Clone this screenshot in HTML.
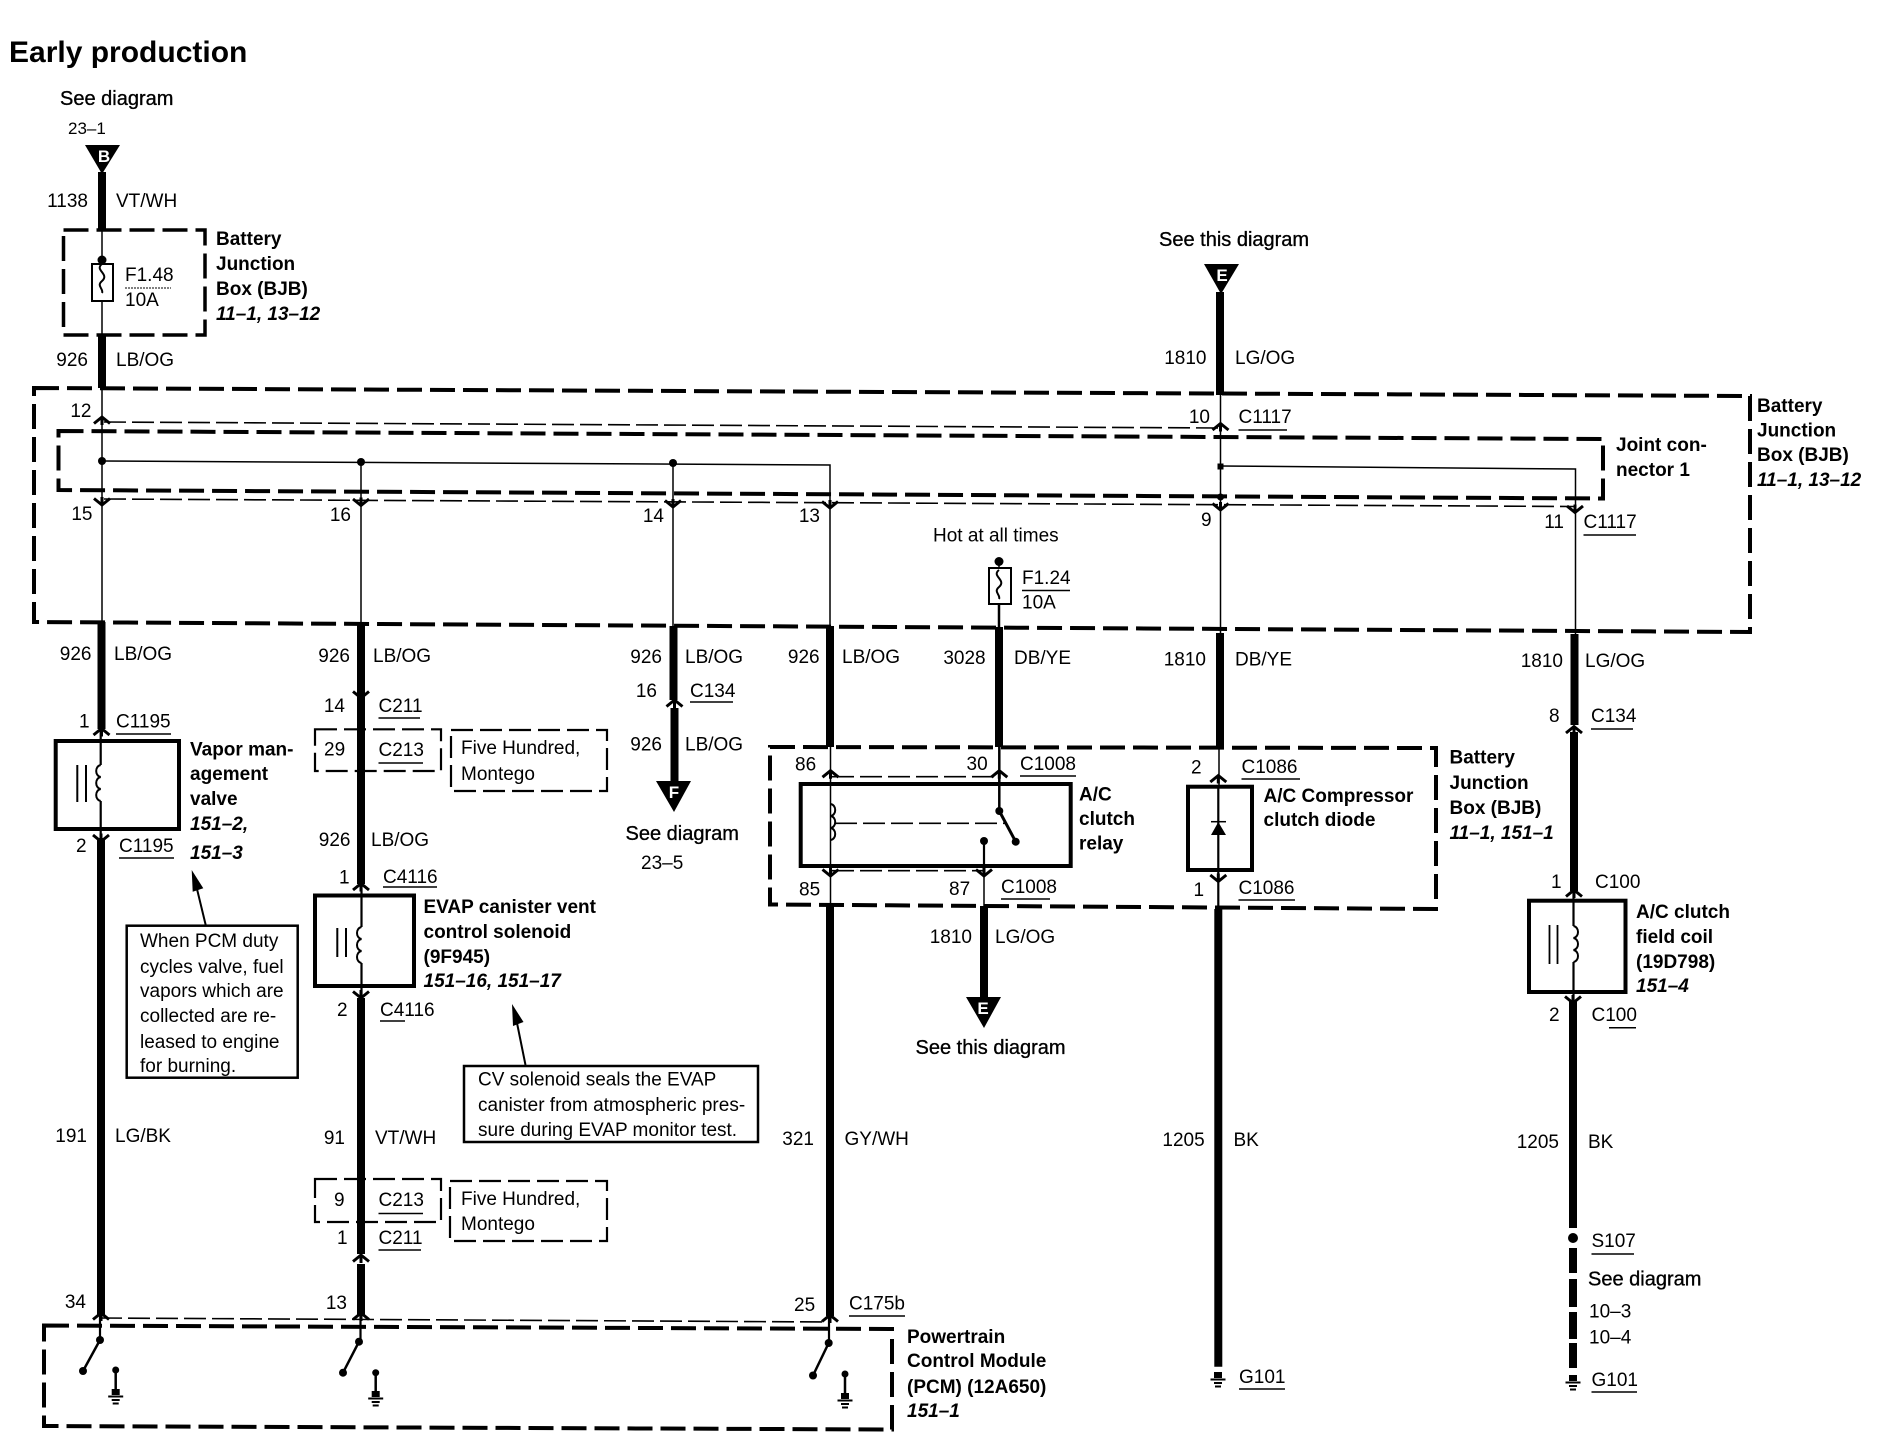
<!DOCTYPE html>
<html><head><meta charset="utf-8"><title>Early production</title>
<style>
html,body{margin:0;padding:0;background:#fff}
svg{display:block}
text{font-family:"Liberation Sans",sans-serif;font-size:19px;fill:#000}
.b{font-weight:bold}
.i{font-weight:bold;font-style:italic}
.e{text-anchor:end}
.m{stroke:#000;stroke-width:.35px}
.t{stroke:#000;stroke-width:8;fill:none}
.n{stroke:#000;stroke-width:1.5;fill:none}
.h{stroke:#000;stroke-width:2.2;fill:none}
.bx{stroke:#000;stroke-width:4;fill:none}
.d{stroke:#000;stroke-width:4;fill:none;stroke-dasharray:25 8}
.dm{stroke:#000;stroke-width:2.2;fill:none;stroke-dasharray:22 7}
.dt{stroke:#000;stroke-width:1.6;fill:none;stroke-dasharray:22 6}
.u{stroke:#000;stroke-width:1.5;fill:none}
</style></head><body>
<svg xmlns="http://www.w3.org/2000/svg" width="1894" height="1456" viewBox="0 0 1894 1456">
<defs>
<path id="cu" d="M-8 3.500L0 -3L8 3.500M0 -3V5" fill="none" stroke="#000" stroke-width="3"/>
<path id="cd" d="M-8 -3.500L0 3L8 -3.500M0 3V-5" fill="none" stroke="#000" stroke-width="3"/>
<g id="gnd"><rect x="-4" y="-7" width="8" height="6"/><path d="M-7.500 0.500H7.500M-4 4H4M-3 7.500H3" fill="none" stroke="#000" stroke-width="2"/></g>
<path id="cl" d="M0 0c-6 1 -6 11 0 12c-6 1 -6 11 0 12c-6 1 -6 11 0 12" fill="none" stroke="#000" stroke-width="2"/>
<path id="cr" d="M0 0c6 1 6 11 0 12c6 1 6 11 0 12c6 1 6 11 0 12" fill="none" stroke="#000" stroke-width="2"/>
<path id="fz" d="M0 0c-8 6 8 10 0 17c-6 5 2 8 0 12" fill="none" stroke="#000" stroke-width="2"/>
</defs>

<text x="9" y="62" class="b" style="font-size:30px">Early production</text>

<!-- Large dashed boxes -->
<path class="d" d="M34 388L1750 396V632L34 622Z"/>
<path class="d" d="M58.500 431L1603 439V498.500L58.500 490Z"/>
<path class="d" d="M63.500 230H205V335H63.500Z" style="stroke-width:3.500"/>
<path class="d" d="M770 747L1436 748V909L770 904.500Z"/>
<path class="d" d="M44 1325.500L892 1329V1429.500L44 1426Z"/>
<path class="dt" d="M104 422L1218 428"/>
<path class="dt" d="M104 499L1574 506.500"/>
<path class="dt" d="M832 776.700H999"/>
<path class="dt" d="M832 870.700H984"/>
<path class="dt" d="M100 1318L830 1322"/>

<!-- Column A -->
<polygon points="85,145 120,145 102,174"/>
<text x="104" y="162" class="b" text-anchor="middle" style="fill:#fff;font-size:17px">B</text>
<path class="t" d="M102 172V230M102 335V388M101.500 622V729M101 838V1316"/>
<path class="n" d="M102 230V260M102 301V335M102 388V622"/>
<circle cx="102" cy="260" r="4.500"/>
<rect x="92" y="264" width="21" height="37" fill="#fff" stroke="#000" stroke-width="2"/>
<use href="#fz" x="102" y="264"/>
<path d="M125 288H171" stroke="#000" stroke-width="1" stroke-dasharray="2 1"/>
<circle cx="102" cy="461" r="4"/>
<use href="#cu" x="102" y="420"/><use href="#cd" x="102" y="502"/>
<use href="#cu" x="101.500" y="731.500"/><use href="#cd" x="101" y="838.500"/><use href="#cu" x="101" y="1316"/>
<path class="h" d="M100.700 729V765M100.700 801V838M100 1316V1340"/>
<rect class="bx" x="55.700" y="741" width="123.300" height="88"/>
<use href="#cl" x="100.700" y="765"/>
<path d="M77.300 765V802M86 765V802" stroke="#000" stroke-width="2"/>
<path d="M100 1340L83 1371M115.700 1370V1392" stroke="#000" stroke-width="2.500"/>
<circle cx="100" cy="1340" r="4"/><circle cx="83" cy="1371" r="4"/><circle cx="115.700" cy="1370" r="3.500"/>
<use href="#gnd" x="115.700" y="1396"/>

<!-- Column B -->
<path class="n" d="M102 461L830 465V628"/>
<circle cx="361" cy="462" r="4"/><circle cx="673" cy="463" r="4"/>
<path class="n" d="M361 462V623"/>
<path class="h" d="M361.500 884V927M361.500 963V998"/>
<path class="t" d="M361 623V884M361 998V1254M361 1264V1316"/>
<use href="#cd" x="361" y="502.500"/><use href="#cd" x="361" y="695"/><use href="#cu" x="361" y="886.500"/><use href="#cd" x="361" y="995"/><use href="#cu" x="361" y="1258"/><use href="#cu" x="361" y="1316"/>
<rect class="bx" x="315" y="895.500" width="99" height="90.500"/>
<use href="#cl" x="361.500" y="927"/>
<path d="M337.300 928V957M346 928V957" stroke="#000" stroke-width="2"/>
<path class="dm" d="M315 729.300H441V771H315Z"/>
<path class="dm" d="M451 730H607V791H451Z"/>
<path class="dm" d="M315 1179H441V1222H315Z"/>
<path class="dm" d="M450 1181H607V1241H450Z"/>
<path class="h" d="M360.500 1316V1342"/>
<path d="M359 1341.700L343 1372.700M375.700 1372.700V1394" stroke="#000" stroke-width="2.500"/>
<circle cx="359" cy="1341.700" r="4"/><circle cx="343" cy="1372.700" r="4"/><circle cx="375.700" cy="1372.700" r="3.500"/>
<use href="#gnd" x="375.700" y="1398"/>

<!-- Column C -->
<path class="n" d="M673 463V626"/>
<use href="#cd" x="673" y="504"/>
<path class="t" d="M673.500 626V700M674.500 708V784"/>
<use href="#cu" x="674.500" y="703"/>
<polygon points="656,781 691,781 674,812"/>
<text x="674" y="798" class="b" text-anchor="middle" style="fill:#fff;font-size:17px">F</text>

<!-- Column D -->
<use href="#cd" x="830" y="505"/>
<path class="t" d="M830 626V747M830 906V1316"/>
<path class="n" d="M830.500 747V905"/>
<path class="h" d="M829 1316V1343"/>
<use href="#cu" x="830.500" y="773.700"/><use href="#cd" x="830.500" y="873"/><use href="#cu" x="830" y="1318"/>
<rect class="bx" x="800.700" y="784" width="270" height="82"/>
<use href="#cr" x="830.700" y="804"/>
<path class="dt" d="M835 823.300H1005"/>
<path d="M999.300 811L1015.700 841.700" stroke="#000" stroke-width="3"/>
<circle cx="999.300" cy="811" r="4"/><circle cx="1015.700" cy="841.700" r="4"/><circle cx="984" cy="841" r="4"/>
<path class="h" d="M984 841V873"/>
<path d="M828.700 1343L813 1375.500M845 1374V1396" stroke="#000" stroke-width="2.500"/>
<circle cx="828.700" cy="1343" r="4"/><circle cx="813" cy="1375.500" r="4"/><circle cx="845" cy="1374" r="3.500"/>
<use href="#gnd" x="845" y="1400"/>

<!-- Column E: fuse / switch -->
<circle cx="999" cy="561.500" r="4.500"/>
<path class="n" d="M999 561.500V568"/>
<rect x="989" y="568" width="22" height="36" fill="#fff" stroke="#000" stroke-width="2"/>
<use href="#fz" x="999" y="570"/>
<path d="M999 604V627" stroke="#000" stroke-width="2.500"/>
<path class="t" d="M999 627V747"/>
<path d="M999.300 747V811" stroke="#000" stroke-width="2.500"/>
<use href="#cu" x="999.300" y="773.700"/>
<path d="M1022 590.500H1070" stroke="#000" stroke-width="1.500"/>

<!-- Column H -->
<use href="#cd" x="984" y="873"/>
<path class="n" d="M984 873V906"/>
<path class="t" d="M984 906V1000"/>
<polygon points="966,997 1001,997 984,1028"/>
<text x="983" y="1014" class="b" text-anchor="middle" style="fill:#fff;font-size:17px">E</text>

<!-- Column F -->
<polygon points="1204,264 1239,264 1221,294"/>
<text x="1222" y="281" class="b" text-anchor="middle" style="fill:#fff;font-size:17px">E</text>
<path class="t" d="M1220 292V395M1220 633V749M1218.300 909V1366.700"/>
<path class="n" d="M1220.500 395V633M1219 749V786"/>
<rect x="1217.500" y="463.500" width="6" height="6"/><circle cx="1220.500" cy="497" r="3.500"/>
<use href="#cu" x="1220.500" y="426.500"/><use href="#cd" x="1220.500" y="507"/><use href="#cu" x="1218.300" y="778.500"/><use href="#cd" x="1218.300" y="878.500"/>
<rect class="bx" x="1188" y="786.700" width="64" height="83.300"/>
<path d="M1218.300 786V909" stroke="#000" stroke-width="2.200"/>
<polygon points="1218.300,822 1211,835 1226,835"/>
<path d="M1211 821.700H1226" stroke="#000" stroke-width="1.500"/>
<use href="#gnd" x="1218" y="1379"/>

<!-- Column G -->
<path class="n" d="M1220.500 466L1575.500 469V634"/>
<use href="#cd" x="1575" y="509.500"/>
<path class="t" d="M1574.500 634V725M1574 732V891M1573 1000V1228"/>
<use href="#cu" x="1574" y="729.500"/><use href="#cu" x="1574" y="893"/><use href="#cd" x="1573" y="1000"/>
<rect class="bx" x="1529" y="900.700" width="96.500" height="91.300"/>
<path class="h" d="M1573.500 893V926M1573.500 962V1000"/>
<use href="#cr" x="1573.500" y="926"/>
<path d="M1549.500 925V964M1557.500 925V964" stroke="#000" stroke-width="1.800"/>
<circle cx="1573" cy="1238" r="5"/>
<path class="t" d="M1573 1248V1273M1573 1279V1307M1573 1312V1339M1573 1343V1368"/>
<use href="#gnd" x="1573" y="1382"/>

<!-- Callout arrows -->
<path d="M205.700 925L197 889" stroke="#000" stroke-width="2"/>
<polygon points="191.700,870 192.700,891.700 203.300,888.300"/>
<rect x="126.700" y="925.700" width="171" height="152" fill="none" stroke="#000" stroke-width="2.500"/>
<path d="M525.500 1065L517 1023" stroke="#000" stroke-width="2"/>
<polygon points="512,1004 513,1026 523.500,1022"/>
<rect x="464" y="1066" width="294" height="76" fill="none" stroke="#000" stroke-width="2.500"/>

<!-- Underlines -->
<path class="u" d="M116 734H171M119 858H174M378.500 718H420M378.500 763H423M383 887H437M380 1021H405M378.500 1213.500H423M378.500 1250H421M690 702H733M1238.500 430H1287M1583.500 535H1636M1020 776H1076M1001 899H1050M1241.500 779H1300M1238.500 900H1295M1591 729H1633M1609 1027.700H1636M849 1316H905M1239 1389H1285M1591.500 1254H1634M1591.500 1392H1637"/>

<!-- Column A text -->
<text x="60" y="105" class="m" style="font-size:20px">See diagram</text>
<text x="68" y="134" style="font-size:17px">23–1</text>
<text x="88" y="207" class="e">1138</text><text x="116" y="207">VT/WH</text>
<text x="216" y="245" class="b">Battery</text><text x="216" y="270" class="b">Junction</text><text x="216" y="295" class="b">Box (BJB)</text><text x="216" y="320" class="i">11–1, 13–12</text>
<text x="125" y="281">F1.48</text><text x="125" y="306">10A</text>
<text x="88" y="366" class="e">926</text><text x="116" y="366">LB/OG</text>
<text x="91.500" y="417" class="e">12</text><text x="92.500" y="520" class="e">15</text>
<text x="91.500" y="660" class="e">926</text><text x="114" y="660">LB/OG</text>
<text x="79" y="727.500">1</text><text x="116" y="727.500">C1195</text>
<text x="76" y="852">2</text><text x="119" y="852">C1195</text>
<text x="190" y="755.500" class="b">Vapor man-</text><text x="190" y="780" class="b">agement</text><text x="190" y="805" class="b">valve</text><text x="190" y="830" class="i">151–2,</text><text x="190" y="859" class="i">151–3</text>
<text x="140" y="947">When PCM duty</text><text x="140" y="973">cycles valve, fuel</text><text x="140" y="997">vapors which are</text><text x="140" y="1022">collected are re-</text><text x="140" y="1048">leased to engine</text><text x="140" y="1072">for burning.</text>
<text x="87" y="1142" class="e">191</text><text x="115" y="1142">LG/BK</text>
<text x="86" y="1308" class="e">34</text>

<!-- Column B text -->
<text x="351" y="521" class="e">16</text>
<text x="350" y="662" class="e">926</text><text x="373" y="662">LB/OG</text>
<text x="345" y="712" class="e">14</text><text x="378.500" y="712">C211</text>
<text x="324" y="755.500">29</text><text x="378.500" y="756">C213</text>
<text x="461" y="754">Five Hundred,</text><text x="461" y="780">Montego</text>
<text x="350.500" y="846" class="e">926</text><text x="371" y="846">LB/OG</text>
<text x="339" y="883.500">1</text><text x="383" y="883">C4116</text>
<text x="423.500" y="913" class="b">EVAP canister vent</text><text x="423.500" y="938" class="b">control solenoid</text><text x="423.500" y="963" class="b">(9F945)</text><text x="423.500" y="987" class="i">151–16, 151–17</text>
<text x="337" y="1016">2</text><text x="380" y="1016">C4116</text>
<text x="345" y="1144" class="e">91</text><text x="375" y="1144">VT/WH</text>
<text x="478" y="1085.500">CV solenoid seals the EVAP</text><text x="478" y="1111">canister from atmospheric pres-</text><text x="478" y="1136">sure during EVAP monitor test.</text>
<text x="334" y="1206">9</text><text x="378.500" y="1206">C213</text>
<text x="461" y="1205">Five Hundred,</text><text x="461" y="1230">Montego</text>
<text x="337" y="1244">1</text><text x="378.500" y="1244">C211</text>
<text x="347" y="1309" class="e">13</text>

<!-- Column C text -->
<text x="664" y="522" class="e">14</text>
<text x="662" y="663" class="e">926</text><text x="685" y="663">LB/OG</text>
<text x="657" y="697" class="e">16</text><text x="690" y="697">C134</text>
<text x="662" y="750.700" class="e">926</text><text x="685" y="750.700">LB/OG</text>
<text x="625.500" y="840" class="m" style="font-size:20px">See diagram</text>
<text x="641" y="869">23–5</text>

<!-- Column D/E text -->
<text x="820" y="522" class="e">13</text>
<text x="933" y="541.500">Hot at all times</text>
<text x="1022" y="584">F1.24</text><text x="1022" y="608.500">10A</text>
<text x="819.600" y="663" class="e">926</text><text x="842" y="663">LB/OG</text>
<text x="985.600" y="664" class="e">3028</text><text x="1014" y="664">DB/YE</text>
<text x="795" y="770.500">86</text><text x="966.500" y="770">30</text><text x="1020" y="770">C1008</text>
<text x="1079" y="800.500" class="b">A/C</text><text x="1079" y="825" class="b">clutch</text><text x="1079" y="849.500" class="b">relay</text>
<text x="799" y="895.500">85</text><text x="949" y="895">87</text><text x="1001" y="893">C1008</text>
<text x="972" y="943" class="e">1810</text><text x="995" y="943">LG/OG</text>
<text x="915.500" y="1054" class="m" style="font-size:20px">See this diagram</text>
<text x="814" y="1145" class="e">321</text><text x="844.500" y="1145">GY/WH</text>
<text x="794" y="1311">25</text><text x="849" y="1309.500">C175b</text>
<text x="907" y="1343" class="b">Powertrain</text><text x="907" y="1367" class="b">Control Module</text><text x="907" y="1393" class="b">(PCM) (12A650)</text><text x="907" y="1417" class="i">151–1</text>

<!-- Column F text -->
<text x="1159" y="246" class="m" style="font-size:20px">See this diagram</text>
<text x="1206.500" y="364" class="e">1810</text><text x="1235" y="364">LG/OG</text>
<text x="1210" y="423" class="e">10</text><text x="1238.500" y="423">C1117</text>
<text x="1201" y="526">9</text>
<text x="1206" y="665.500" class="e">1810</text><text x="1235" y="665.500">DB/YE</text>
<text x="1191" y="773.500">2</text><text x="1241.500" y="773">C1086</text>
<text x="1263.500" y="802" class="b">A/C Compressor</text><text x="1263.500" y="826" class="b">clutch diode</text>
<text x="1193.500" y="896">1</text><text x="1238.500" y="894">C1086</text>
<text x="1204.700" y="1146" class="e">1205</text><text x="1233.500" y="1146">BK</text>
<text x="1239" y="1383">G101</text>

<!-- Column G text -->
<text x="1564" y="528" class="e">11</text><text x="1583.500" y="528">C1117</text>
<text x="1563" y="667" class="e">1810</text><text x="1585" y="667">LG/OG</text>
<text x="1549" y="722">8</text><text x="1591" y="722">C134</text>
<text x="1551" y="888">1</text><text x="1595" y="888">C100</text>
<text x="1636" y="918" class="b">A/C clutch</text><text x="1636" y="943" class="b">field coil</text><text x="1636" y="968" class="b">(19D798)</text><text x="1636" y="992" class="i">151–4</text>
<text x="1549" y="1021">2</text><text x="1591.500" y="1021">C100</text>
<text x="1559" y="1148" class="e">1205</text><text x="1588" y="1148">BK</text>
<text x="1591.500" y="1247">S107</text>
<text x="1588" y="1285.500" class="m" style="font-size:20px">See diagram</text>
<text x="1589" y="1317.500">10–3</text><text x="1589" y="1343.500">10–4</text>
<text x="1591.500" y="1386">G101</text>

<!-- Right side labels -->
<text x="1616" y="451" class="b">Joint con-</text><text x="1616" y="476" class="b">nector 1</text>
<text x="1757" y="412" class="b">Battery</text><text x="1757" y="436.500" class="b">Junction</text><text x="1757" y="461" class="b">Box (BJB)</text><text x="1757" y="486" class="i">11–1, 13–12</text>
<text x="1449.500" y="763.500" class="b">Battery</text><text x="1449.500" y="789" class="b">Junction</text><text x="1449.500" y="814" class="b">Box (BJB)</text><text x="1449.500" y="839" class="i">11–1, 151–1</text>
</svg>
</body></html>
